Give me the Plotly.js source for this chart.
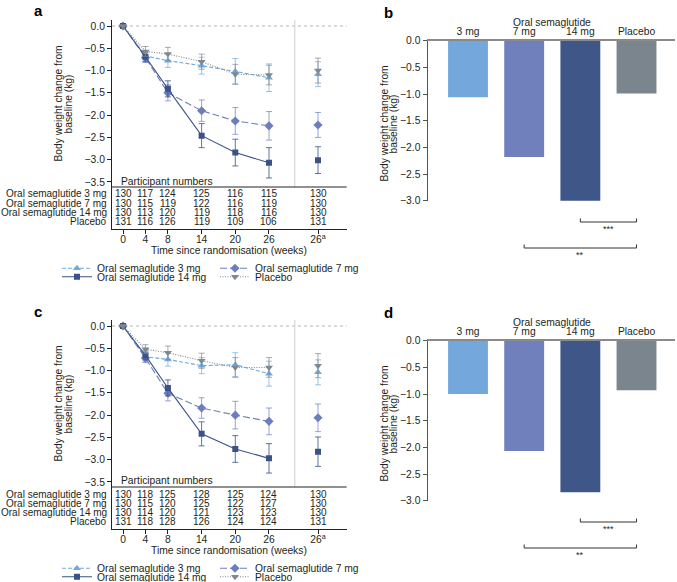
<!DOCTYPE html>
<html>
<head>
<meta charset="utf-8">
<script src="https://cdn.plot.ly/plotly-3.0.1.min.js"></script>
<style>
  html, body { margin: 0; padding: 0; background: #fff; overflow: hidden; }
  #fig { width: 677px; height: 582px; }
</style>
</head>
<body>
<div id="fig"></div>
<script>
(function () {
  "use strict";

  // ---- data ----
  const WEEKS = [0, 4, 8, 14, 20, 26];
  const WEEK_LABELS = ["0", "4", "8", "14", "20", "26", "26<sup>a</sup>"];
  const SERIES = ["Oral semaglutide 3 mg", "Oral semaglutide 7 mg", "Oral semaglutide 14 mg", "Placebo"];
  const BAR_CATS = ["3 mg", "7 mg", "14 mg", "Placebo"];

  // panel a
  const a3 = [0, -0.67, -0.78, -0.89, -1.02, -1.16];
  const a7 = [0, -0.71, -1.50, -1.90, -2.13, -2.24];
  const a14 = [0, -0.69, -1.41, -2.46, -2.84, -3.07];
  const aPbo = [0, -0.57, -0.63, -0.80, -1.08, -1.10];
  const a3Err = [0, 0.11, 0.15, 0.19, 0.29, 0.31];
  const a7Err = [0, 0.11, 0.18, 0.24, 0.30, 0.32];
  const a14Err = [0, 0.11, 0.18, 0.27, 0.30, 0.34];
  const aPboErr = [0, 0.11, 0.15, 0.17, 0.22, 0.22];
  const a26a = [-1.08, -2.22, -3.01, -1.00];
  const a26aErr = [0.28, 0.28, 0.30, 0.28];

  // panel c
  const c3 = [0, -0.69, -0.75, -0.89, -0.87, -1.07];
  const c7 = [0, -0.72, -1.51, -1.84, -2.00, -2.14];
  const c14 = [0, -0.66, -1.39, -2.42, -2.76, -2.97];
  const cPbo = [0, -0.52, -0.60, -0.78, -0.93, -0.93];
  const c3Err = [0, 0.10, 0.15, 0.18, 0.27, 0.28];
  const c7Err = [0, 0.10, 0.17, 0.23, 0.31, 0.30];
  const c14Err = [0, 0.10, 0.18, 0.27, 0.30, 0.33];
  const cPboErr = [0, 0.10, 0.15, 0.17, 0.22, 0.22];
  const c26a = [-1.04, -2.06, -2.82, -0.89];
  const c26aErr = [0.28, 0.31, 0.33, 0.27];

  // participant numbers (weeks 0, 4, 8, 14, 20, 26, 26a)
  const nA3 = [130, 117, 124, 125, 116, 115, 130];
  const nA7 = [130, 115, 119, 122, 116, 119, 130];
  const nA14 = [130, 113, 120, 119, 118, 116, 130];
  const nAPbo = [131, 116, 126, 119, 109, 106, 131];
  const nC3 = [130, 118, 125, 128, 125, 124, 130];
  const nC7 = [130, 115, 120, 125, 122, 127, 130];
  const nC14 = [130, 114, 120, 121, 123, 123, 130];
  const nCPbo = [131, 118, 128, 126, 124, 124, 131];

  // bar panels
  const barsB = [-1.06, -2.18, -3.01, -0.99];
  const barsD = [-1.00, -2.07, -2.84, -0.93];

  // ---- styling ----
  const W = 677, H = 582;
  const FONT = 'Arial, "Liberation Sans", sans-serif';
  const INK = "#231f20";
  const FS = 10.3;
  const FS_TABLE = 10;
  const LINE_COLORS = ["#72a9dc", "#6b7fbf", "#3b5287", "#7f878f"];
  const ERR_COLORS = ["rgba(114,169,220,0.7)", "rgba(107,127,191,0.7)", "rgba(59,82,135,0.8)", "rgba(127,135,143,0.7)"];
  const DASHES = ["4px,2px", "7px,3px", "solid", "1px,1.5px"];
  const SYMBOLS = ["triangle-up", "diamond", "square", "triangle-down"];
  const BAR_COLORS = ["#74a8dc", "#6f80bd", "#3e5688", "#7b858e"];
  const X26A = 34.73;     // where the "26a" column sits on the week axis
  const SEP_X = 30.6;     // grey separator between 26 and 26a

  function px(x) { return x / W; }
  function py(y) { return 1 - y / H; }

  const traces = [];
  const annotations = [];
  const shapes = [];
  const layout = {
    width: W, height: H,
    // autoexpand off: the bottom legends sit on the edge and would otherwise
    // push the margin and squash every panel
    margin: { l: 0, r: 0, t: 0, b: 0, autoexpand: false },
    paper_bgcolor: "#fff", plot_bgcolor: "rgba(0,0,0,0)",
    font: { family: FONT, size: FS, color: INK },
    hovermode: false,
    annotations: annotations,
    shapes: shapes,
  };

  // paper annotations default to "auto" anchors, which flip near the edges —
  // pin them to the centre unless told otherwise
  function text(x, y, t, opts) {
    annotations.push(Object.assign({
      xref: "paper", yref: "paper", x: px(x), y: py(y), text: t,
      xanchor: "center", yanchor: "middle",
      showarrow: false, font: { family: FONT, size: FS, color: INK },
    }, opts || {}));
  }

  // ---- line panel (a / c) ----
  function linePanel(off, ax, series, errs, last, lastErr, counts, legends) {
    const xa = "xaxis" + (ax === 1 ? "" : ax), ya = "yaxis" + (ax === 1 ? "" : ax);
    const xr = "x" + (ax === 1 ? "" : ax), yr = "y" + (ax === 1 ? "" : ax);
    const top = 20 + off, tableTop = 187 + off, bottom = 229 + off;

    layout[xa] = {
      domain: [px(112), px(346.7)], range: [-1.959, 39.84], anchor: yr,
      tickvals: WEEKS.concat([X26A]), ticktext: WEEK_LABELS,
      showline: true, linecolor: "#222", linewidth: 1,
      ticks: "outside", ticklen: 4, tickcolor: "#222", ticklabelstandoff: -3,
      showgrid: false, zeroline: false, tickfont: { size: FS },
    };
    layout[ya] = {
      domain: [py(bottom), py(top)], range: [-4.555, 0.1346], anchor: xr,
      tickvals: [0, -0.5, -1, -1.5, -2, -2.5, -3, -3.5], tickformat: ".1f",
      showline: true, linecolor: "#222", linewidth: 1,
      ticks: "outside", ticklen: 4, tickcolor: "#222",
      showgrid: false, zeroline: false, tickfont: { size: FS },
    };

    series.forEach(function (vals, i) {
      const style = {
        xaxis: xr, yaxis: yr,
        line: { color: LINE_COLORS[i], width: 1.1, dash: DASHES[i] },
        marker: { symbol: SYMBOLS[i], size: i === 2 ? 6 : 7, color: LINE_COLORS[i] },
      };
      traces.push(Object.assign({
        type: "scatter", mode: "lines+markers", name: SERIES[i],
        x: WEEKS, y: vals, legend: legends[i < 2 ? 0 : 1],
        error_y: { type: "data", array: errs[i], color: ERR_COLORS[i], thickness: 1, width: 3 },
      }, style));
      traces.push(Object.assign({
        type: "scatter", mode: "markers", showlegend: false,
        x: [X26A], y: [last[i]],
        error_y: { type: "data", array: [lastErr[i]], color: ERR_COLORS[i], thickness: 1, width: 3 },
      }, style));
    });

    shapes.push({ type: "line", layer: "below", xref: xr + " domain", yref: yr, x0: 0, x1: 1, y0: 0, y1: 0,
      line: { color: "#b5b5b5", width: 1, dash: "dot" } });
    shapes.push({ type: "line", layer: "below", xref: xr, yref: "paper", x0: SEP_X, x1: SEP_X,
      y0: py(tableTop), y1: py(top), line: { color: "#cfcfcf", width: 1 } });
    shapes.push({ type: "line", xref: "paper", yref: "paper", x0: px(112), x1: px(346.7),
      y0: py(tableTop), y1: py(tableTop), line: { color: "#222", width: 1 } });

    text(119, 181 + off, "Participant numbers", { xanchor: "left" });
    const rowY = [194, 203, 212, 221];
    const tableFont = { family: FONT, size: FS_TABLE, color: INK };
    counts.forEach(function (row, r) {
      text(109.5, rowY[r] + off, SERIES[r], { xanchor: "right", font: tableFont });
      row.forEach(function (n, c) {
        annotations.push({
          xref: xr, yref: "paper", x: c < WEEKS.length ? WEEKS[c] : X26A, y: py(rowY[r] + off),
          xanchor: "center", yanchor: "middle",
          text: String(n), showarrow: false, font: tableFont,
        });
      });
    });

    text(228.5, 250.5 + off, "Time since randomisation (weeks)");
    text(57.5, 104 + off, "Body weight change from", { textangle: -90 });
    text(67.5, 104 + off, "baseline (kg)", { textangle: -90 });

    layout[legends[0]] = legendAt(268.3 + off);
    layout[legends[1]] = legendAt(276.7 + off);
  }

  function legendAt(y) {
    return {
      x: px(57), y: py(y), xanchor: "left", yanchor: "middle",
      orientation: "h", entrywidth: 113, bgcolor: "rgba(0,0,0,0)",
      font: { family: FONT, size: FS, color: INK }, itemclick: false, itemdoubleclick: false,
      tracegroupgap: 0,
    };
  }

  // ---- bar panel (b / d) ----
  function barPanel(off, ax, vals) {
    const xa = "xaxis" + ax, ya = "yaxis" + ax, xr = "x" + ax, yr = "y" + ax;
    const zeroY = 40.7 + off, minY = 200.7 + off;
    layout[xa] = {
      domain: [px(427.5), px(675)], range: [-0.721, 3.685], anchor: yr,
      type: "category", side: "top",
      showline: true, linecolor: "#8a8a8a", linewidth: 1.3,
      ticks: "", showgrid: false, zeroline: false, tickfont: { size: FS },
    };
    layout[ya] = {
      domain: [py(minY), py(zeroY)], range: [-3, 0], anchor: xr,
      dtick: 0.5, tickformat: ".1f",
      showline: true, linecolor: "#555", linewidth: 1,
      ticks: "outside", ticklen: 4, tickcolor: "#555",
      showgrid: false, zeroline: false, tickfont: { size: FS },
    };
    traces.push({
      type: "bar", x: BAR_CATS, y: vals, width: 0.71, xaxis: xr, yaxis: yr,
      marker: { color: BAR_COLORS, line: { width: 0 } }, showlegend: false,
    });

    annotations.push({ xref: xr, yref: "paper", x: 1.5, y: py(22.3 + off), text: "Oral semaglutide",
      xanchor: "center", yanchor: "middle",
      showarrow: false, font: { family: FONT, size: FS, color: INK } });
    text(383.5, 124 + off, "Body weight change from", { textangle: -90 });
    text(392.5, 124 + off, "baseline (kg)", { textangle: -90 });

    // significance brackets: 14 mg vs placebo, 7 mg vs placebo
    [[2, 3, 222, "***"], [1, 3, 248, "**"]].forEach(function (b) {
      const yb = b[2] + off;
      const ln = { color: "#333", width: 1 };
      shapes.push({ type: "line", xref: xr, yref: "paper", x0: b[0], x1: b[1], y0: py(yb), y1: py(yb), line: ln });
      shapes.push({ type: "line", xref: xr, yref: "paper", x0: b[0], x1: b[0], y0: py(yb), y1: py(yb - 3.5), line: ln });
      shapes.push({ type: "line", xref: xr, yref: "paper", x0: b[1], x1: b[1], y0: py(yb), y1: py(yb - 3.5), line: ln });
      annotations.push({ xref: xr, yref: "paper", x: (b[0] + b[1]) / 2, y: py(yb + 7), text: b[3],
        xanchor: "center", yanchor: "middle",
        showarrow: false, font: { family: FONT, size: 9, color: INK } });
    });
  }

  linePanel(0, 1, [a3, a7, a14, aPbo], [a3Err, a7Err, a14Err, aPboErr], a26a, a26aErr,
    [nA3, nA7, nA14, nAPbo], ["legend", "legend2"]);
  barPanel(0, 2, barsB);
  linePanel(300, 3, [c3, c7, c14, cPbo], [c3Err, c7Err, c14Err, cPboErr], c26a, c26aErr,
    [nC3, nC7, nC14, nCPbo], ["legend3", "legend4"]);
  barPanel(300, 4, barsD);

  // panel letters
  [["a", 38, 10], ["b", 388, 12], ["c", 38, 311], ["d", 388, 312]].forEach(function (l) {
    text(l[1], l[2], "<b>" + l[0] + "</b>", { font: { family: FONT, size: 15, color: "#000" } });
  });

  Plotly.newPlot("fig", traces, layout, { displayModeBar: false, staticPlot: true });
})();
</script>
</body>
</html>
